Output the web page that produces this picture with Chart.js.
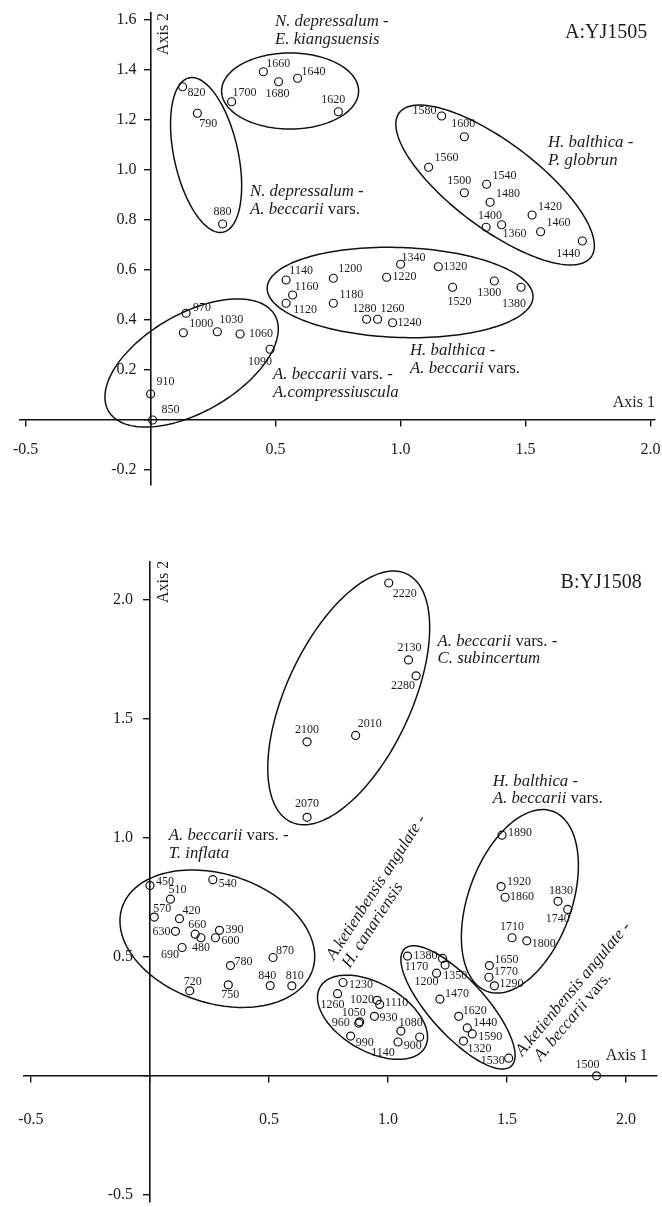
<!DOCTYPE html>
<html>
<head>
<meta charset="utf-8">
<script src="https://cdn.jsdelivr.net/npm/chart.js@4.4.1/dist/chart.umd.min.js"></script>
<style>
html,body{margin:0;padding:0;background:#fff;}
#wrapA{position:absolute;left:0;top:0;width:662px;height:500px;}
#wrapB{position:absolute;left:0;top:540px;width:662px;height:667px;}
</style>
</head>
<body>
<div id="wrapA"><canvas id="cA"></canvas></div>
<div id="wrapB"><canvas id="cB"></canvas></div>
<script>
// ---------------- Panel A : YJ1505 ----------------
const aSamples = [820,790,1700,1660,1680,1640,1620,1580,1600,1560,1500,1540,1480,1420,1400,1360,1460,1440,1340,1320,1220,1200,1300,1380,1520,1180,1280,1260,1240,1140,1160,1120,970,1000,1030,1060,1090,910,850,880];
const aAxis1 = [0.128,0.187,0.324,0.451,0.512,0.588,0.751,1.164,1.255,1.112,1.255,1.344,1.358,1.526,1.342,1.404,1.560,1.727,1.000,1.151,0.944,0.731,1.375,1.482,1.208,0.731,0.864,0.908,0.968,0.542,0.568,0.542,0.142,0.131,0.267,0.358,0.478,0.000,0.008,0.288];
const aAxis2 = [1.333,1.227,1.273,1.393,1.353,1.367,1.233,1.216,1.133,1.011,0.909,0.943,0.871,0.820,0.771,0.781,0.753,0.716,0.623,0.613,0.571,0.567,0.556,0.531,0.531,0.467,0.403,0.403,0.389,0.560,0.500,0.467,0.427,0.349,0.353,0.344,0.283,0.104,0.000,0.784];
// grouping ellipses (data units)
const aEllCx = [0.558, 0.222, 1.378, 0.998, 0.164];
const aEllCy = [1.316, 1.060, 0.940, 0.510, 0.228];
const aEllA  = [0.274, 0.316, 0.480, 0.532, 0.384];
const aEllB  = [0.152, 0.128, 0.172, 0.180, 0.196];
const aEllAngle = [0, 102.4, -37, -2, 30];
const aGroupText = [["*N. depressalum -*","*E. kiangsuensis*"],["*N. depressalum -*","*A. beccarii* vars."],["*H. balthica -*","*P. globrun*"],["*H. balthica -*","*A. beccarii* vars."],["*A. beccarii* vars. -","*A.compressiuscula*"]];
const aGroupX = [0.4976, 0.3976, 1.5896, 1.0376, 0.4896];
const aGroupY = [1.592, 0.912, 1.108, 0.276, 0.180];
const aTitle = "A:YJ1505";
const aXTicks = {min:-0.5224, max:2.0176, step:0.5};
const aYTicks = {min:-0.26, max:1.628, step:0.2};

// ---------------- Panel B : YJ1508 ----------------
const bSamples = [2220,2130,2280,2010,2100,2070,450,540,510,570,420,630,660,480,390,600,690,780,870,720,750,840,810,1890,1920,1860,1830,1740,1710,1800,1650,1770,1290,1380,1170,1350,1200,1470,1620,1440,1590,1320,1530,1500,1230,1260,1020,1110,1050,960,930,990,1080,1140,900];
const bAxis1 = [1.003,1.086,1.118,0.864,0.660,0.660,0.000,0.264,0.086,0.018,0.124,0.107,0.190,0.214,0.292,0.275,0.135,0.338,0.517,0.167,0.329,0.505,0.596,1.479,1.475,1.492,1.714,1.755,1.521,1.583,1.426,1.424,1.447,1.082,1.229,1.240,1.204,1.218,1.297,1.333,1.354,1.317,1.507,1.876,0.811,0.788,0.954,0.965,0.881,0.877,0.943,0.843,1.054,1.042,1.133];
const bAxis2 = [2.070,1.747,1.680,1.430,1.403,1.086,0.799,0.824,0.742,0.667,0.660,0.607,0.595,0.580,0.611,0.580,0.539,0.463,0.497,0.357,0.382,0.379,0.378,1.011,0.795,0.750,0.733,0.699,0.580,0.567,0.463,0.414,0.378,0.503,0.493,0.465,0.431,0.322,0.250,0.201,0.176,0.146,0.074,0.000,0.392,0.345,0.317,0.300,0.227,0.221,0.250,0.167,0.188,0.142,0.163];
const bEllCx = [0.835, 0.283, 1.554, 0.935, 1.294];
const bEllCy = [1.5875, 0.576, 0.733, 0.246, 0.2875];
const bEllA  = [0.575, 0.421, 0.4025, 0.254, 0.333];
const bEllB  = [0.2625, 0.271, 0.2167, 0.142, 0.117];
const bEllAngle = [65, -18, 70, -30, -47.8];
const bGroupText = [["*A. beccarii* vars. -","*C. subincertum*"],["*H. balthica -*","*A. beccarii* vars."],["*A. beccarii* vars. -","*T. inflata*"],["*A.ketienbensis angulate -*","*H. canariensis*"],["*A.ketienbensis angulate -*","*A. beccarii* vars."]];
const bGroupX = [1.2083, 1.440, 0.079, 0.758, 1.550];
const bGroupY = [1.826, 1.236, 1.007, 0.493, 0.092];
const bTitle = "B:YJ1508";
const bXTicks = {min:-0.5292, max:2.1292, step:0.5};
const bYTicks = {min:-0.5292, max:2.1583, step:0.5};

// ---------------- label placement (pixel offsets, styles) ----------------
const aLabelOffsets = [[14,6],[11,11],[13,-9],[15,-8],[-1,12],[16,-6],[-5,-12],[-17,-5],[-1,-13],[18,-9],[-5,-12],[18,-8],[18,-8],[18,-8],[4,-11],[13,9],[18,-9],[-14,13],[13,-6],[17,0],[18,0],[17,-9],[-5,12],[-7,17],[7,15],[18,-8],[-2,-10],[15,-10],[17,0],[15,-9],[14,-8],[19,7],[16,-5],[18,-9],[14,-12],[21,0],[-10,13],[15,-12],[18,-10],[0,-12]];
const bLabelOffsets = [[16,11],[1,-12],[-13,10],[14,-12],[0,-12],[0,-13],[15,-4],[15,4],[7,-9],[8,-8],[12,-8],[-14,1],[2,-9],[0,10],[15,-1],[15,3],[-12,7],[13,-4],[12,-7],[3,-9],[2,10],[-3,-10],[3,-10],[18,-2],[18,-5],[17,0],[3,-10],[-10,9],[0,-11],[17,3],[17,-6],[17,-5],[17,-2],[18,0],[-26,8],[10,11],[-10,9],[17,-5],[16,-5],[18,-5],[18,3],[16,8],[-16,3],[-9,-11],[18,2],[-5,11],[-15,-1],[17,-2],[-6,-9],[-18,0],[14,2],[14,7],[10,-8],[-15,11],[-7,9]];
const aGroupAngle = [0,0,0,0,0];
const bGroupAngle = [0,0,0,-57,-50];
const bGroupIndent = [0,0,0,2,8];
const aGroupIndent = [0,0,0,0,0];

const FONT = '"Liberation Serif", "Times New Roman", serif';
const INK = '#1b1b1b';

function richDraw(ctx, str, x, y, size) {
  const parts = str.split('*');
  let cx = x;
  parts.forEach((p, i) => {
    if (!p) return;
    ctx.font = (i % 2 ? 'italic ' : '') + size + 'px ' + FONT;
    ctx.fillText(p, cx, y);
    cx += ctx.measureText(p).width;
  });
}

function drawEllipse(ctx, xs, ys, cx, cy, a, b, ang) {
  const th = ang * Math.PI / 180, ux = Math.cos(th), uy = Math.sin(th);
  ctx.beginPath();
  const N = 160;
  for (let k = 0; k <= N; k++) {
    const t = k / N * 2 * Math.PI;
    const dx = a * Math.cos(t), dy = b * Math.sin(t);
    const vx = cx + dx * ux - dy * uy, vy = cy + dx * uy + dy * ux;
    const px = xs.getPixelForValue(vx), py = ys.getPixelForValue(vy);
    if (k === 0) ctx.moveTo(px, py); else ctx.lineTo(px, py);
  }
  ctx.closePath();
  ctx.stroke();
}

function makeOverlay(cfg) {
  return {
    id: 'overlay_' + cfg.name,
    afterDatasetsDraw(chart) {
      const ctx = chart.ctx, xs = chart.scales.x, ys = chart.scales.y;
      ctx.save();
      ctx.strokeStyle = '#111'; ctx.lineWidth = 1.5;
      for (let i = 0; i < cfg.ell.cx.length; i++) {
        drawEllipse(ctx, xs, ys, cfg.ell.cx[i], cfg.ell.cy[i], cfg.ell.a[i], cfg.ell.b[i], cfg.ell.ang[i]);
      }
      ctx.fillStyle = INK;
      ctx.textAlign = 'center'; ctx.textBaseline = 'middle';
      ctx.font = '12px ' + FONT;
      const meta = chart.getDatasetMeta(0);
      meta.data.forEach((pt, i) => {
        const o = cfg.offsets[i];
        ctx.fillText(String(cfg.labels[i]), pt.x + o[0], pt.y + o[1]);
      });
      ctx.font = '16px ' + FONT; ctx.textAlign = 'right';
      const x0 = xs.getPixelForValue(0);
      ys.ticks.forEach(t => {
        if (Math.abs(t.value) < 1e-9) return;
        ctx.fillText(t.value.toFixed(1), x0 - cfg.yGap, ys.getPixelForValue(t.value));
      });
      ctx.textAlign = 'left'; ctx.textBaseline = 'middle';
      for (let i = 0; i < cfg.groups.text.length; i++) {
        const px = xs.getPixelForValue(cfg.groups.x[i]), py = ys.getPixelForValue(cfg.groups.y[i]);
        ctx.save();
        ctx.translate(px, py);
        ctx.rotate(cfg.groups.angle[i] * Math.PI / 180);
        cfg.groups.text[i].forEach((line, k) => {
          richDraw(ctx, line, k ? cfg.groups.indent[i] : 0, k * 17.5, 16.8);
        });
        ctx.restore();
      }
      ctx.font = '20px ' + FONT; ctx.textAlign = 'left';
      ctx.fillText(cfg.title, xs.getPixelForValue(cfg.titlePos[0]), ys.getPixelForValue(cfg.titlePos[1]));
      ctx.font = '16px ' + FONT; ctx.textAlign = 'right';
      ctx.fillText('Axis 1', xs.getPixelForValue(cfg.ax1Pos[0]), ys.getPixelForValue(cfg.ax1Pos[1]));
      ctx.save();
      ctx.translate(xs.getPixelForValue(cfg.ax2Pos[0]), ys.getPixelForValue(cfg.ax2Pos[1]));
      ctx.rotate(-Math.PI / 2);
      ctx.textAlign = 'center';
      ctx.fillText('Axis 2', 0, 0);
      ctx.restore();
      ctx.restore();
    }
  };
}

function makeChart(canvasId, cfg) {
  const pts = cfg.xv.map((v, i) => ({x: v, y: cfg.yv[i]}));
  const zeroPad = s => { s.paddingLeft = 0; s.paddingRight = 0; s.paddingTop = 0; s.paddingBottom = 0; };
  return new Chart(document.getElementById(canvasId), {
    type: 'scatter',
    data: { datasets: [{
      data: pts,
      pointRadius: 4, pointHoverRadius: 4,
      pointBorderWidth: 1.2, pointBorderColor: '#111',
      pointBackgroundColor: 'rgba(255,255,255,0)', showLine: false
    }]},
    options: {
      responsive: true, maintainAspectRatio: false, animation: false,
      devicePixelRatio: 1,
      layout: { padding: cfg.pad },
      plugins: { legend: {display: false}, tooltip: {enabled: false} },
      events: [],
      scales: {
        x: {
          type: 'linear', min: cfg.xt.min, max: cfg.xt.max, position: {y: 0},
          afterFit: s => { s.height = 0; zeroPad(s); },
          border: {display: true, color: '#111', width: 1.6},
          grid: {drawOnChartArea: false, drawTicks: true, tickLength: 6, color: '#111', lineWidth: 1.4},
          ticks: {stepSize: cfg.xt.step, includeBounds: false, autoSkip: false, maxRotation: 0, minRotation: 0,
            padding: cfg.xPad, color: INK, font: {family: FONT, size: 16},
            callback: v => Math.abs(v) < 1e-9 ? '' : Number(v).toFixed(1)}
        },
        y: {
          type: 'linear', min: cfg.yt.min, max: cfg.yt.max, position: {x: 0},
          afterFit: s => { s.width = 0; zeroPad(s); },
          border: {display: true, color: '#111', width: 1.6},
          grid: {drawOnChartArea: false, drawTicks: true, tickLength: 6, color: '#111', lineWidth: 1.4},
          ticks: {stepSize: cfg.yt.step, includeBounds: false, display: false, font: {family: FONT, size: 16}}
        }
      }
    },
    plugins: [makeOverlay(cfg)]
  });
}

makeChart('cA', {
  name: 'A', xv: aAxis1, yv: aAxis2, labels: aSamples, offsets: aLabelOffsets,
  xt: aXTicks, yt: aYTicks, pad: {left: 20, right: 7, top: 13, bottom: 15},
  xPad: 14, yGap: 14,
  ell: {cx: aEllCx, cy: aEllCy, a: aEllA, b: aEllB, ang: aEllAngle},
  groups: {text: aGroupText, x: aGroupX, y: aGroupY, angle: aGroupAngle, indent: aGroupIndent},
  title: aTitle, titlePos: [1.6576, 1.548],
  ax1Pos: [2.0176, 0.068], ax2Pos: [0.0536, 1.544]
});

makeChart('cB', {
  name: 'B', xv: bAxis1, yv: bAxis2, labels: bSamples, offsets: bLabelOffsets,
  xt: bXTicks, yt: bYTicks, pad: {left: 24, right: 0, top: 22, bottom: 0},
  xPad: 28, yGap: 17,
  ell: {cx: bEllCx, cy: bEllCy, a: bEllA, b: bEllB, ang: bEllAngle},
  groups: {text: bGroupText, x: bGroupX, y: bGroupY, angle: bGroupAngle, indent: bGroupIndent},
  title: bTitle, titlePos: [1.725, 2.071],
  ax1Pos: [2.0917, 0.0833], ax2Pos: [0.0583, 2.075]
});
</script>
</body>
</html>
